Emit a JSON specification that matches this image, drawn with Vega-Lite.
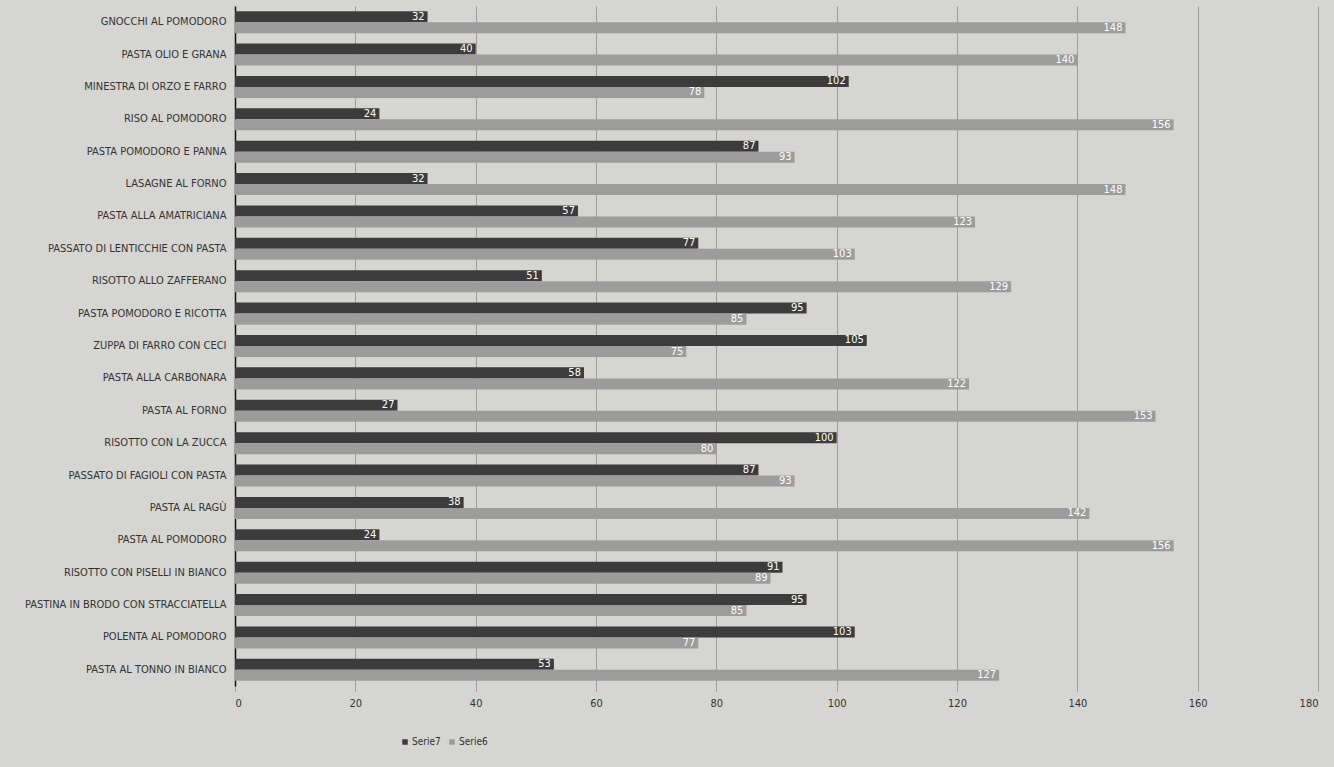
{
  "$schema": "https://vega.github.io/schema/vega-lite/v6.json",
  "autosize": {"type": "none"},
  "width": 1083,
  "height": 680,
  "padding": {"left": 235, "top": 6, "right": 16, "bottom": 81},
  "background": "#d5d6d1",
  "config": {
    "view": {"stroke": null},
    "font": "DejaVu Sans Condensed",
    "axis": {"labelFont": "DejaVu Sans Condensed", "labelColor": "#333333"},
    "legend": {"labelFont": "DejaVu Sans Condensed"}
  },
  "data": {
    "values": [
      {"piatto": "GNOCCHI AL POMODORO", "serie": "Serie7", "valore": 32},
      {"piatto": "GNOCCHI AL POMODORO", "serie": "Serie6", "valore": 148},
      {"piatto": "PASTA OLIO E GRANA", "serie": "Serie7", "valore": 40},
      {"piatto": "PASTA OLIO E GRANA", "serie": "Serie6", "valore": 140},
      {"piatto": "MINESTRA DI ORZO E FARRO", "serie": "Serie7", "valore": 102},
      {"piatto": "MINESTRA DI ORZO E FARRO", "serie": "Serie6", "valore": 78},
      {"piatto": "RISO AL POMODORO", "serie": "Serie7", "valore": 24},
      {"piatto": "RISO AL POMODORO", "serie": "Serie6", "valore": 156},
      {"piatto": "PASTA POMODORO E PANNA", "serie": "Serie7", "valore": 87},
      {"piatto": "PASTA POMODORO E PANNA", "serie": "Serie6", "valore": 93},
      {"piatto": "LASAGNE AL FORNO", "serie": "Serie7", "valore": 32},
      {"piatto": "LASAGNE AL FORNO", "serie": "Serie6", "valore": 148},
      {"piatto": "PASTA ALLA AMATRICIANA", "serie": "Serie7", "valore": 57},
      {"piatto": "PASTA ALLA AMATRICIANA", "serie": "Serie6", "valore": 123},
      {"piatto": "PASSATO DI LENTICCHIE CON PASTA", "serie": "Serie7", "valore": 77},
      {"piatto": "PASSATO DI LENTICCHIE CON PASTA", "serie": "Serie6", "valore": 103},
      {"piatto": "RISOTTO ALLO ZAFFERANO", "serie": "Serie7", "valore": 51},
      {"piatto": "RISOTTO ALLO ZAFFERANO", "serie": "Serie6", "valore": 129},
      {"piatto": "PASTA POMODORO E RICOTTA", "serie": "Serie7", "valore": 95},
      {"piatto": "PASTA POMODORO E RICOTTA", "serie": "Serie6", "valore": 85},
      {"piatto": "ZUPPA DI FARRO CON CECI", "serie": "Serie7", "valore": 105},
      {"piatto": "ZUPPA DI FARRO CON CECI", "serie": "Serie6", "valore": 75},
      {"piatto": "PASTA ALLA CARBONARA", "serie": "Serie7", "valore": 58},
      {"piatto": "PASTA ALLA CARBONARA", "serie": "Serie6", "valore": 122},
      {"piatto": "PASTA AL FORNO", "serie": "Serie7", "valore": 27},
      {"piatto": "PASTA AL FORNO", "serie": "Serie6", "valore": 153},
      {"piatto": "RISOTTO CON LA ZUCCA", "serie": "Serie7", "valore": 100},
      {"piatto": "RISOTTO CON LA ZUCCA", "serie": "Serie6", "valore": 80},
      {"piatto": "PASSATO DI FAGIOLI CON PASTA", "serie": "Serie7", "valore": 87},
      {"piatto": "PASSATO DI FAGIOLI CON PASTA", "serie": "Serie6", "valore": 93},
      {"piatto": "PASTA AL RAGÙ", "serie": "Serie7", "valore": 38},
      {"piatto": "PASTA AL RAGÙ", "serie": "Serie6", "valore": 142},
      {"piatto": "PASTA AL POMODORO", "serie": "Serie7", "valore": 24},
      {"piatto": "PASTA AL POMODORO", "serie": "Serie6", "valore": 156},
      {"piatto": "RISOTTO CON PISELLI IN BIANCO", "serie": "Serie7", "valore": 91},
      {"piatto": "RISOTTO CON PISELLI IN BIANCO", "serie": "Serie6", "valore": 89},
      {"piatto": "PASTINA IN BRODO CON STRACCIATELLA", "serie": "Serie7", "valore": 95},
      {"piatto": "PASTINA IN BRODO CON STRACCIATELLA", "serie": "Serie6", "valore": 85},
      {"piatto": "POLENTA AL POMODORO", "serie": "Serie7", "valore": 103},
      {"piatto": "POLENTA AL POMODORO", "serie": "Serie6", "valore": 77},
      {"piatto": "PASTA AL TONNO IN BIANCO", "serie": "Serie7", "valore": 53},
      {"piatto": "PASTA AL TONNO IN BIANCO", "serie": "Serie6", "valore": 127}
    ]
  },
  "encoding": {
    "y": {
      "field": "piatto",
      "type": "nominal",
      "sort": null,
      "scale": {"paddingInner": 0.32, "paddingOuter": 0.16},
      "axis": {
        "title": null,
        "ticks": false,
        "domainColor": "#111111",
        "domainWidth": 1.5,
        "labelFontSize": 11,
        "labelPadding": 9,
        "labelLimit": 260
      }
    },
    "yOffset": {
      "field": "serie",
      "type": "nominal",
      "sort": ["Serie7", "Serie6"],
      "scale": {"paddingInner": 0, "paddingOuter": 0}
    },
    "x": {
      "field": "valore",
      "type": "quantitative",
      "scale": {"domain": [0, 180], "nice": false},
      "axis": {
        "title": null,
        "values": [0, 20, 40, 60, 80, 100, 120, 140, 160, 180],
        "grid": true,
        "gridColor": "#9c9c9c",
        "gridWidth": 1,
        "domain": false,
        "tickColor": "#9c9c9c",
        "tickSize": 5,
        "labelFontSize": 11,
        "labelPadding": 6
      }
    }
  },
  "layer": [
    {
      "mark": {"type": "bar"},
      "encoding": {
        "color": {
          "field": "serie",
          "type": "nominal",
          "scale": {"domain": ["Serie7", "Serie6"], "range": ["#3c3c3c", "#9c9c9c"]},
          "legend": {
            "title": null,
            "orient": "none",
            "legendX": 165,
            "legendY": 731,
            "direction": "horizontal",
            "symbolType": "square",
            "symbolSize": 30,
            "labelFontSize": 10,
            "labelColor": "#333333",
            "columnPadding": 6,
            "labelOffset": 2
          }
        }
      }
    },
    {
      "mark": {"type": "text", "align": "right", "dx": -3, "color": "#ffffff", "fontSize": 11, "baseline": "middle"},
      "encoding": {
        "text": {"field": "valore", "type": "quantitative"}
      }
    }
  ]
}
